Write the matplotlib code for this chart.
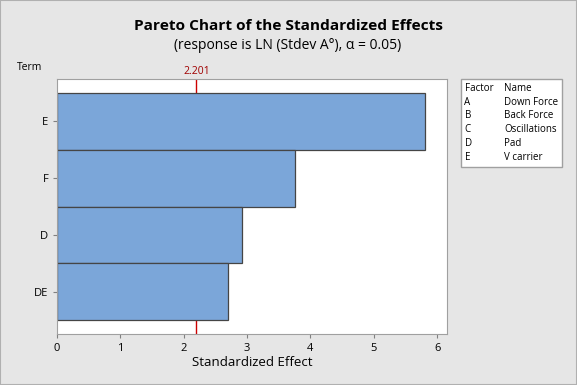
import matplotlib
matplotlib.use("Agg")
import matplotlib.pyplot as plt
from matplotlib.patches import Rectangle

terms = ["E", "F", "D", "DE"]
effects = [5.81, 3.76, 2.92, 2.70]
ref_value = 2.201
factors = ["A", "B", "C", "D", "E"]
names = ["Down Force", "Back Force", "Oscillations", "Pad", "V carrier"]
xticks = [0, 1, 2, 3, 4, 5, 6]

plt.rcParams['font.family'] = ['Open Sans', 'DejaVu Sans']

W, H = 577, 385
fig = plt.figure(figsize=(W/100, H/100), dpi=100)
fig.patch.set_facecolor('#e6e6e6')
fig.patches.append(Rectangle((0, 0), 1, 1, transform=fig.transFigure, fill=False,
                             edgecolor='#b0b0b0', lw=1.5))

left, right, top, bottom = 56.7, 447.3, 78.7, 334.3
ax = fig.add_axes([left/W, 1-bottom/H, (right-left)/W, (bottom-top)/H])
ax.set_facecolor('white')

pos = list(range(len(terms)))
ax.axvline(ref_value, color='#cc0000', lw=1, zorder=1)
ax.barh(pos, effects, height=1.0, color='#7ba6d9', edgecolor='#454545', lw=0.9, zorder=2)
ax.set_ylim(3.75, -0.75)
ax.set_xlim(0, 6.16)
ax.set_yticks(pos)
ax.set_yticklabels(terms, fontsize=8)
ax.set_xticks(xticks)
ax.set_xticklabels([str(t) for t in xticks], fontsize=8)
for s in ax.spines.values():
    s.set_color('#a0a0a0')
ax.tick_params(colors='#808080', labelcolor='black', length=3, pad=3)
ax.set_xlabel('Standardized Effect', fontsize=9.5, labelpad=2)

ax.text(ref_value, 1.008, f'{ref_value:.3f}', transform=ax.get_xaxis_transform(),
        ha='center', va='bottom', color='#a00000', fontsize=7.5)

fig.text(288/W, 1-26/H, 'Pareto Chart of the Standardized Effects',
         ha='center', va='center', fontsize=11.1, fontweight='bold')
fig.text(288/W, 1-45.5/H, '(response is LN (Stdev A°), α = 0.05)', ha='center', va='center', fontsize=10)
fig.text(30/W, 1-68/H, 'Term', ha='center', va='center', fontsize=7.5)

# legend box
lx0, lx1, ly0, ly1 = 461.3, 561.5, 78.7, 167.3
fig.patches.append(Rectangle((lx0/W, 1-ly1/H), (lx1-lx0)/W, (ly1-ly0)/H,
                             transform=fig.transFigure, facecolor='white',
                             edgecolor='#a0a0a0', lw=1))
rows_y = [88.5, 102.5, 116, 130, 143.5, 157.3]
fig.text(464.5/W, 1-rows_y[0]/H, 'Factor', fontsize=7, va='center')
fig.text(504/W, 1-rows_y[0]/H, 'Name', fontsize=7, va='center')
for f, n, y in zip(factors, names, rows_y[1:]):
    fig.text(464.5/W, 1-y/H, f, fontsize=7, va='center')
    fig.text(504/W, 1-y/H, n, fontsize=7, va='center')

fig.savefig('out.png', dpi=100, facecolor=fig.get_facecolor())
